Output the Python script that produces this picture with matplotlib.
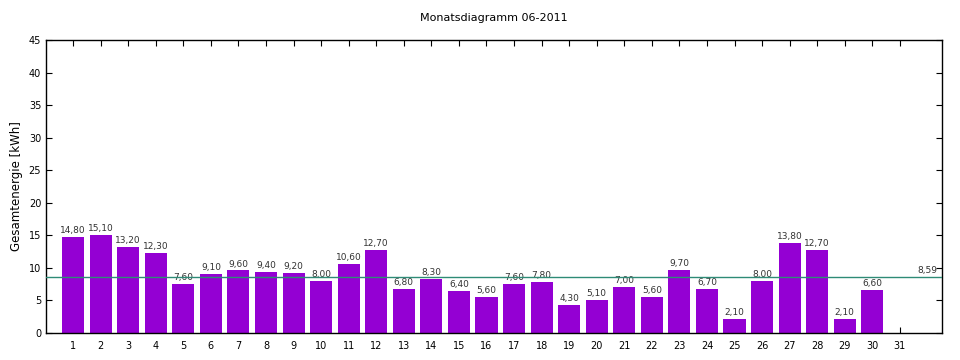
import numpy as np
import matplotlib.pyplot as plt

days = list(range(1, 32))
energy = [14.8, 15.1, 13.2, 12.3, 7.6, 9.1, 9.6, 9.4, 9.2, 8.0,
          10.6, 12.7, 6.8, 8.3, 6.4, 5.6, 7.6, 7.8, 4.3, 5.1,
          7.0, 5.6, 9.7, 6.7, 2.1, 8.0, 13.8, 12.7, 2.1, 6.6]
title = "Monatsdiagramm 06-2011"
ylabel = "Gesamtenergie [kWh]"

avg = np.mean(energy)

fig = plt.figure(figsize=(9.6, 3.6), dpi=100)
ax = fig.add_axes([0.048, 0.075, 0.933, 0.814])

x = days[:len(energy)]
ax.bar(x, energy, width=0.8, color="#9400d3", zorder=2)
for xi, v in zip(x, energy):
    ax.text(xi, v + 0.3, f"{v:.2f}".replace(".", ","), ha="center", va="bottom",
            fontsize=6.5, color="#333333", zorder=3)

ax.axhline(avg, color="#2e8b76", lw=1, zorder=3)
ax.text(32.35, avg + 0.3, f"{avg:.2f}".replace(".", ","), ha="right", va="bottom",
        fontsize=6.5, color="#333333")

ax.set_xlim(0.02, 32.52)
ax.set_ylim(0, 45)
ax.set_xticks(days)
ax.set_yticks(range(0, 46, 5))
ax.tick_params(direction="in", top=True, right=True, labelsize=7, length=4)
ax.tick_params(axis="x", pad=6)
for s in ax.spines.values():
    s.set_linewidth(1)

ax.set_title(title, fontsize=8, pad=14)
ax.set_ylabel(ylabel, fontsize=8.5, labelpad=4)

fig.savefig("out.png", dpi=100)
